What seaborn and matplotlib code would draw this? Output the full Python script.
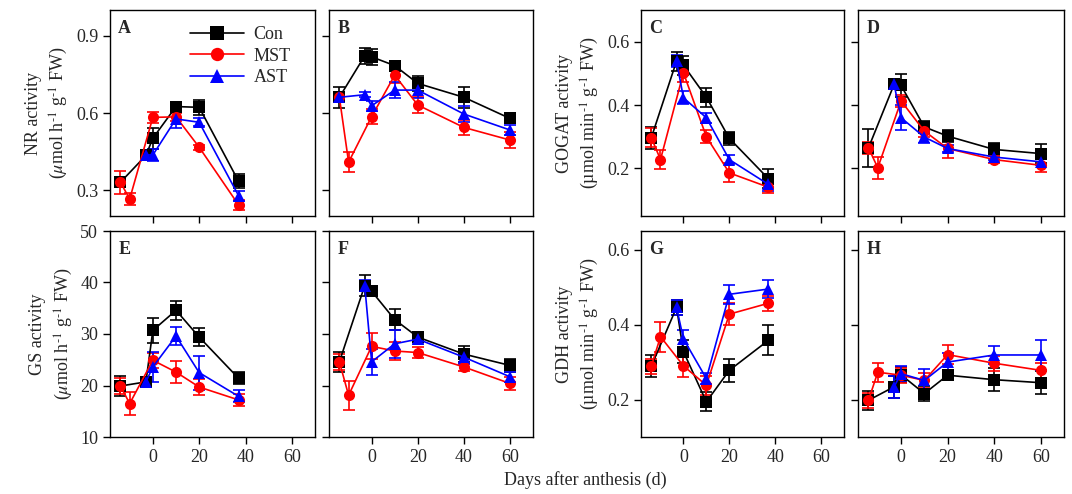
import pandas as pd
import numpy as np
import seaborn as sns
import matplotlib.pyplot as plt

# days after anthesis
days_short = [-14, -10, -3, 0, 10, 20, 37]
days_long = [-14, -10, -3, 0, 10, 20, 40, 60]

groups = ["Con", "MST", "AST"]
colors = {"Con": "black", "MST": "red", "AST": "blue"}
markers = {"Con": "s", "MST": "o", "AST": "^"}

# (x, mean, err) per panel and treatment
nr_a = {
    "Con": ([-14, -3, 0, 10, 20, 37], [0.331, 0.435, 0.502, 0.625, 0.622, 0.335], [0.02, 0.01, 0.04, 0.015, 0.03, 0.028]),
    "MST": ([-14, -10, 0, 10, 20, 37], [0.331, 0.266, 0.583, 0.585, 0.467, 0.243], [0.045, 0.025, 0.02, 0.015, 0.01, 0.02]),
    "AST": ([-3, 0, 10, 20, 37], [0.437, 0.437, 0.577, 0.564, 0.279], [0.01, 0.025, 0.035, 0.015, 0.02]),
}
nr_b = {
    "Con": ([-14, -3, 0, 10, 20, 40, 60], [0.661, 0.822, 0.818, 0.784, 0.715, 0.661, 0.579], [0.04, 0.03, 0.03, 0.01, 0.03, 0.04, 0.015]),
    "MST": ([-14, -10, 0, 10, 20, 40, 60], [0.661, 0.409, 0.586, 0.747, 0.631, 0.544, 0.495], [0.02, 0.04, 0.03, 0.03, 0.03, 0.03, 0.03]),
    "AST": ([-14, -3, 0, 10, 20, 40, 60], [0.661, 0.671, 0.628, 0.689, 0.689, 0.596, 0.534], [0.02, 0.01, 0.02, 0.03, 0.03, 0.03, 0.02]),
}
gogat_c = {
    "Con": ([-14, -3, 0, 10, 20, 37], [0.297, 0.539, 0.526, 0.425, 0.295, 0.168], [0.035, 0.03, 0.03, 0.03, 0.02, 0.03]),
    "MST": ([-14, -10, 0, 10, 20, 37], [0.297, 0.228, 0.502, 0.300, 0.186, 0.141], [0.03, 0.03, 0.03, 0.02, 0.03, 0.02]),
    "AST": ([-3, 0, 10, 20, 37], [0.539, 0.423, 0.360, 0.228, 0.150], [0.02, 0.02, 0.015, 0.015, 0.02]),
}
gogat_d = {
    "Con": ([-14, -3, 0, 10, 20, 40, 60], [0.265, 0.465, 0.462, 0.331, 0.302, 0.260, 0.247], [0.06, 0.015, 0.035, 0.02, 0.02, 0.02, 0.03]),
    "MST": ([-14, -10, 0, 10, 20, 40, 60], [0.265, 0.202, 0.413, 0.318, 0.263, 0.228, 0.210], [0.02, 0.035, 0.02, 0.02, 0.03, 0.01, 0.02]),
    "AST": ([-3, 0, 10, 20, 40, 60], [0.465, 0.360, 0.299, 0.263, 0.236, 0.221], [0.015, 0.04, 0.02, 0.01, 0.01, 0.01]),
}
gs_e = {
    "Con": ([-14, -3, 0, 10, 20, 37], [19.9, 20.7, 30.7, 34.6, 29.4, 21.4], [1.9, 1.0, 2.5, 1.8, 1.8, 1.2]),
    "MST": ([-14, -10, 0, 10, 20, 37], [19.9, 16.5, 24.9, 22.6, 19.7, 17.2], [1.5, 2.2, 1.5, 2.2, 1.5, 1.2]),
    "AST": ([-3, 0, 10, 20, 37], [20.7, 23.6, 29.6, 22.5, 17.9], [1.0, 3.0, 1.8, 3.3, 1.2]),
}
gs_f = {
    "Con": ([-14, -3, 0, 10, 20, 40, 60], [24.6, 39.4, 38.3, 32.8, 29.4, 26.1, 23.9], [2.0, 2.0, 1.0, 2.0, 0.7, 1.5, 1.2]),
    "MST": ([-14, -10, 0, 10, 20, 40, 60], [24.6, 18.1, 27.6, 26.7, 26.4, 23.6, 20.4], [1.5, 2.8, 2.5, 1.8, 1.0, 0.8, 1.2]),
    "AST": ([-3, 0, 10, 20, 40, 60], [39.4, 24.6, 28.1, 29.0, 25.5, 21.7], [1.0, 2.5, 2.7, 1.0, 1.3, 1.0]),
}
gdh_g = {
    "Con": ([-14, -3, 0, 10, 20, 37], [0.289, 0.446, 0.328, 0.194, 0.278, 0.358], [0.03, 0.02, 0.03, 0.025, 0.03, 0.04]),
    "MST": ([-14, -10, 0, 10, 20, 37], [0.289, 0.368, 0.290, 0.238, 0.428, 0.457], [0.02, 0.04, 0.03, 0.025, 0.03, 0.02]),
    "AST": ([-3, 0, 10, 20, 37], [0.446, 0.362, 0.256, 0.481, 0.495], [0.02, 0.025, 0.015, 0.025, 0.025]),
}
gdh_h = {
    "Con": ([-14, -3, 0, 10, 20, 40, 60], [0.198, 0.234, 0.266, 0.216, 0.265, 0.253, 0.245], [0.025, 0.03, 0.02, 0.02, 0.01, 0.03, 0.03]),
    "MST": ([-14, -10, 0, 10, 20, 40, 60], [0.198, 0.273, 0.265, 0.251, 0.320, 0.297, 0.278], [0.02, 0.025, 0.02, 0.02, 0.025, 0.02, 0.02]),
    "AST": ([-3, 0, 10, 20, 40, 60], [0.234, 0.269, 0.251, 0.300, 0.319, 0.319], [0.03, 0.02, 0.03, 0.025, 0.025, 0.04]),
}

unit_h = "($\\mu$mol h$^{\\text{-}1}$ g$^{\\text{-}1}$ FW)"
unit_min = "(\u00b5mol min$^{\\text{-}1}$ g$^{\\text{-}1}$ FW)"

# letter, data, ylim, yticks, ylabel (or None), axes rect in pixels (left, right, top, bottom)
panels = [
    ("A", nr_a, (0.2, 1.0), [0.3, 0.6, 0.9], "NR activity\n" + unit_h, (110, 315, 10, 216)),
    ("B", nr_b, (0.2, 1.0), [0.3, 0.6, 0.9], None, (329, 533, 10, 216)),
    ("C", gogat_c, (0.05, 0.7), [0.2, 0.4, 0.6], "GOGAT activity\n" + unit_min, (641, 844, 10, 216)),
    ("D", gogat_d, (0.05, 0.7), [0.2, 0.4, 0.6], None, (858, 1064, 10, 216)),
    ("E", gs_e, (10, 50), [10, 20, 30, 40, 50], "GS activity\n" + unit_h, (110, 315, 231, 437)),
    ("F", gs_f, (10, 50), [10, 20, 30, 40, 50], None, (329, 533, 231, 437)),
    ("G", gdh_g, (0.1, 0.65), [0.2, 0.4, 0.6], "GDH activity\n" + unit_min, (641, 844, 231, 437)),
    ("H", gdh_h, (0.1, 0.65), [0.2, 0.4, 0.6], None, (858, 1064, 231, 437)),
]

sns.set_theme(style="ticks")
plt.rcParams["font.family"] = ["Liberation Serif", "DejaVu Serif"]
plt.rcParams["mathtext.fontset"] = "stix"
plt.rcParams["xtick.direction"] = "out"
plt.rcParams["ytick.direction"] = "out"

W, H = 1072, 494
fig = plt.figure(figsize=(W / 100, H / 100), dpi=100)

for letter, data, ylim, yticks, ylabel, (l, r, t, b) in panels:
    ax = fig.add_axes([l / W, 1 - b / H, (r - l) / W, (b - t) / H])

    rows = []
    for g in groups:
        xs, ys, es = data[g]
        for x, y, e in zip(xs, ys, es):
            rows.append({"day": x, "value": y, "err": e, "group": g})
    df = pd.DataFrame(rows)

    for g in groups:
        sub = df[df["group"] == g]
        ax.errorbar(sub["day"], sub["value"], yerr=sub["err"], fmt="none",
                    ecolor=colors[g], elinewidth=1.2, capsize=4, capthick=1.2)

    sns.lineplot(data=df, x="day", y="value", hue="group", style="group",
                 hue_order=groups, style_order=groups, palette=colors,
                 markers=markers, dashes=False, markersize=8, markeredgewidth=0,
                 linewidth=1.2, legend=(letter == "A"), ax=ax)

    ax.set_xlim(-18.5, 70)
    ax.set_xticks([0, 20, 40, 60])
    ax.set_ylim(*ylim)
    ax.set_yticks(yticks)
    ax.tick_params(labelsize=13, length=5, width=1, color="black")
    for s in ax.spines.values():
        s.set_linewidth(1.0)
        s.set_color("black")

    if t > 100:
        ax.set_xticklabels(["0", "20", "40", "60"])
    else:
        ax.set_xticklabels([])
    if ylabel is None:
        ax.set_yticklabels([])
        ax.set_ylabel("")
    else:
        ax.set_ylabel(ylabel, fontsize=13, linespacing=1.4)
    ax.set_xlabel("")

    ax.text(0.04, 0.95, letter, transform=ax.transAxes, fontsize=13,
            fontweight="bold", ha="left", va="top")

    if letter == "A":
        sns.move_legend(ax, loc="upper right", bbox_to_anchor=(0.96, 1.0),
                        frameon=False, title=None, fontsize=13, markerscale=1.2,
                        handlelength=3.0, labelspacing=0.25, handletextpad=0.5)

fig.text(585 / W, 1 - 480 / H, "Days after anthesis (d)", ha="center", va="center", fontsize=13)

fig.savefig("out.png", dpi=100)
